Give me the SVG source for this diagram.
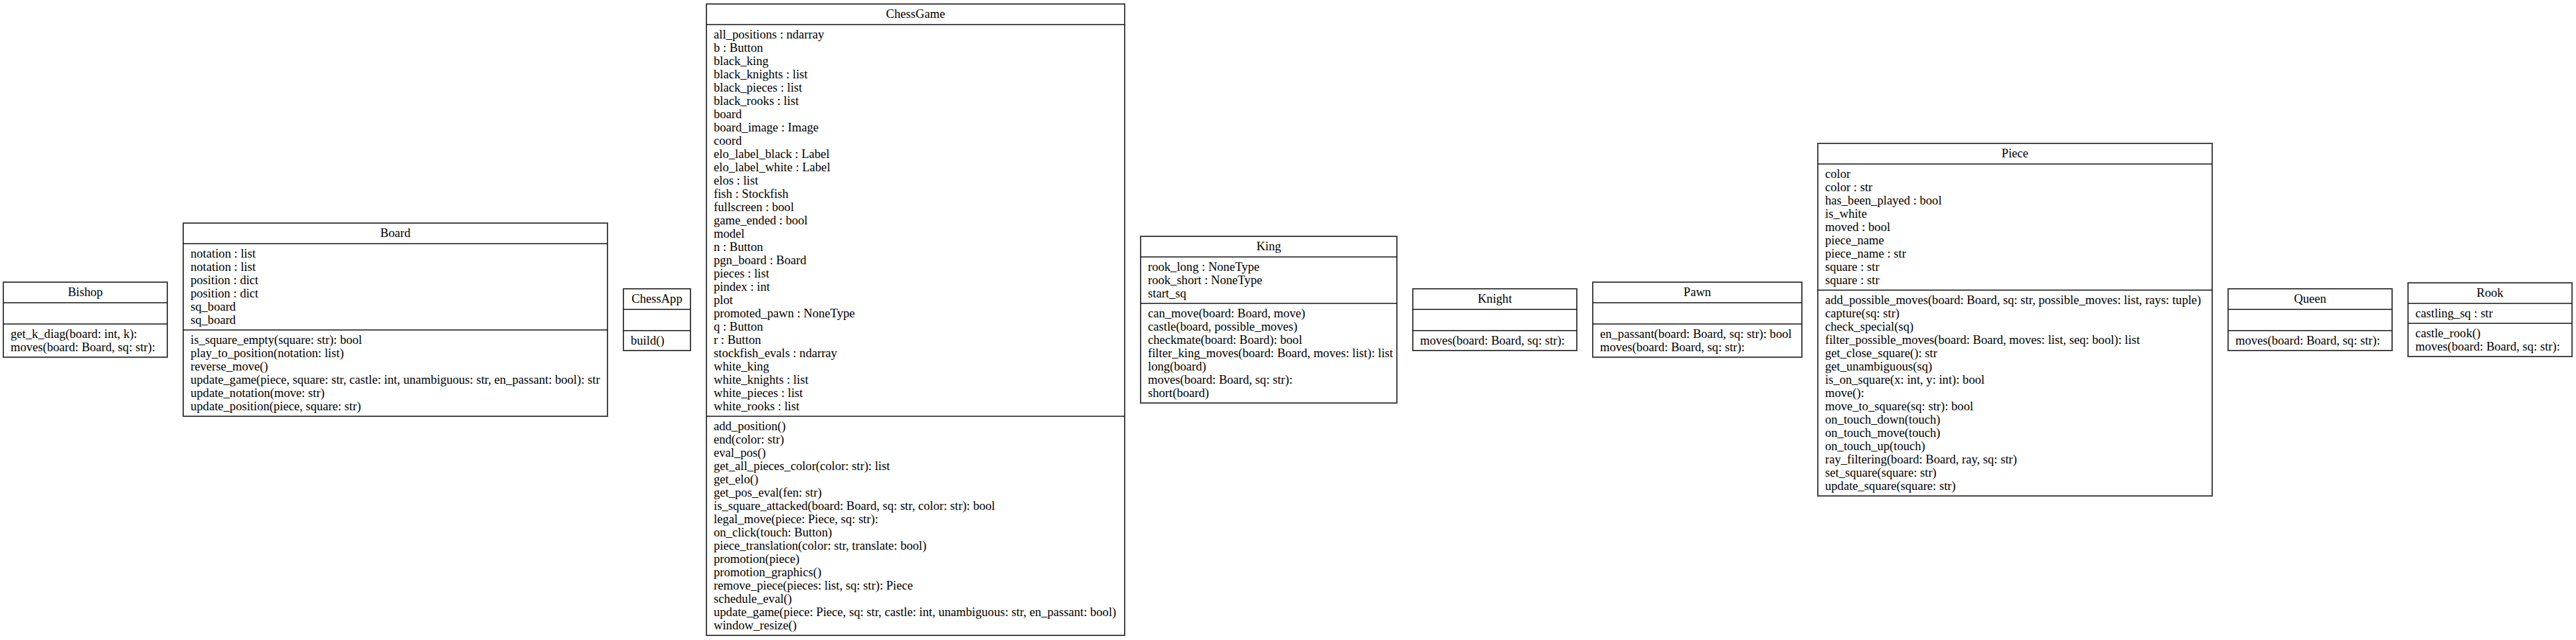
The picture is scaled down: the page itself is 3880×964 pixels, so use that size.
<svg xmlns="http://www.w3.org/2000/svg" width="3880" height="964" viewBox="0 0 3880 964">
<style>
.bg{fill:#ffffff}
.box{fill:#ffffff;stroke:#444444;stroke-width:2}
.sep{stroke:#111111;stroke-width:1.5}
text{font-family:"Liberation Serif","Times New Roman",serif;font-size:18.6px;fill:#000000}
.title{text-anchor:middle}
</style>
<rect class="bg" x="0" y="0" width="3880" height="964"/>
<g id="connectors"></g>
<g id="Bishop">
<rect class="box" x="5" y="425" width="247" height="113"/>
<line class="sep" x1="5" y1="456" x2="252" y2="456"/>
<line class="sep" x1="5" y1="488" x2="252" y2="488"/>
<text class="title" x="128.5" y="446">Bishop</text>
<text x="16" y="508.5"><tspan x="16">get_k_diag(board: int, k):</tspan><tspan x="16" dy="20">moves(board: Board, sq: str):</tspan></text>
</g>
<g id="Board">
<rect class="box" x="276" y="336" width="639" height="291"/>
<line class="sep" x1="276" y1="367" x2="915" y2="367"/>
<line class="sep" x1="276" y1="497" x2="915" y2="497"/>
<text class="title" x="595.5" y="357">Board</text>
<text x="287" y="387.5"><tspan x="287">notation : list</tspan><tspan x="287" dy="20">notation : list</tspan><tspan x="287" dy="20">position : dict</tspan><tspan x="287" dy="20">position : dict</tspan><tspan x="287" dy="20">sq_board</tspan><tspan x="287" dy="20">sq_board</tspan></text>
<text x="287" y="517.5"><tspan x="287">is_square_empty(square: str): bool</tspan><tspan x="287" dy="20">play_to_position(notation: list)</tspan><tspan x="287" dy="20">reverse_move()</tspan><tspan x="287" dy="20">update_game(piece, square: str, castle: int, unambiguous: str, en_passant: bool): str</tspan><tspan x="287" dy="20">update_notation(move: str)</tspan><tspan x="287" dy="20">update_position(piece, square: str)</tspan></text>
</g>
<g id="ChessApp">
<rect class="box" x="939" y="435" width="101" height="93"/>
<line class="sep" x1="939" y1="466" x2="1040" y2="466"/>
<line class="sep" x1="939" y1="498" x2="1040" y2="498"/>
<text class="title" x="989.5" y="456">ChessApp</text>
<text x="950" y="518.5">build()</text>
</g>
<g id="ChessGame">
<rect class="box" x="1064" y="6" width="630" height="951"/>
<line class="sep" x1="1064" y1="37" x2="1694" y2="37"/>
<line class="sep" x1="1064" y1="627" x2="1694" y2="627"/>
<text class="title" x="1379" y="27">ChessGame</text>
<text x="1075" y="57.5"><tspan x="1075">all_positions : ndarray</tspan><tspan x="1075" dy="20">b : Button</tspan><tspan x="1075" dy="20">black_king</tspan><tspan x="1075" dy="20">black_knights : list</tspan><tspan x="1075" dy="20">black_pieces : list</tspan><tspan x="1075" dy="20">black_rooks : list</tspan><tspan x="1075" dy="20">board</tspan><tspan x="1075" dy="20">board_image : Image</tspan><tspan x="1075" dy="20">coord</tspan><tspan x="1075" dy="20">elo_label_black : Label</tspan><tspan x="1075" dy="20">elo_label_white : Label</tspan><tspan x="1075" dy="20">elos : list</tspan><tspan x="1075" dy="20">fish : Stockfish</tspan><tspan x="1075" dy="20">fullscreen : bool</tspan><tspan x="1075" dy="20">game_ended : bool</tspan><tspan x="1075" dy="20">model</tspan><tspan x="1075" dy="20">n : Button</tspan><tspan x="1075" dy="20">pgn_board : Board</tspan><tspan x="1075" dy="20">pieces : list</tspan><tspan x="1075" dy="20">pindex : int</tspan><tspan x="1075" dy="20">plot</tspan><tspan x="1075" dy="20">promoted_pawn : NoneType</tspan><tspan x="1075" dy="20">q : Button</tspan><tspan x="1075" dy="20">r : Button</tspan><tspan x="1075" dy="20">stockfish_evals : ndarray</tspan><tspan x="1075" dy="20">white_king</tspan><tspan x="1075" dy="20">white_knights : list</tspan><tspan x="1075" dy="20">white_pieces : list</tspan><tspan x="1075" dy="20">white_rooks : list</tspan></text>
<text x="1075" y="647.5"><tspan x="1075">add_position()</tspan><tspan x="1075" dy="20">end(color: str)</tspan><tspan x="1075" dy="20">eval_pos()</tspan><tspan x="1075" dy="20">get_all_pieces_color(color: str): list</tspan><tspan x="1075" dy="20">get_elo()</tspan><tspan x="1075" dy="20">get_pos_eval(fen: str)</tspan><tspan x="1075" dy="20">is_square_attacked(board: Board, sq: str, color: str): bool</tspan><tspan x="1075" dy="20">legal_move(piece: Piece, sq: str):</tspan><tspan x="1075" dy="20">on_click(touch: Button)</tspan><tspan x="1075" dy="20">piece_translation(color: str, translate: bool)</tspan><tspan x="1075" dy="20">promotion(piece)</tspan><tspan x="1075" dy="20">promotion_graphics()</tspan><tspan x="1075" dy="20">remove_piece(pieces: list, sq: str): Piece</tspan><tspan x="1075" dy="20">schedule_eval()</tspan><tspan x="1075" dy="20">update_game(piece: Piece, sq: str, castle: int, unambiguous: str, en_passant: bool)</tspan><tspan x="1075" dy="20">window_resize()</tspan></text>
</g>
<g id="King">
<rect class="box" x="1718" y="356" width="386" height="251"/>
<line class="sep" x1="1718" y1="387" x2="2104" y2="387"/>
<line class="sep" x1="1718" y1="457" x2="2104" y2="457"/>
<text class="title" x="1911" y="377">King</text>
<text x="1729" y="407.5"><tspan x="1729">rook_long : NoneType</tspan><tspan x="1729" dy="20">rook_short : NoneType</tspan><tspan x="1729" dy="20">start_sq</tspan></text>
<text x="1729" y="477.5"><tspan x="1729">can_move(board: Board, move)</tspan><tspan x="1729" dy="20">castle(board, possible_moves)</tspan><tspan x="1729" dy="20">checkmate(board: Board): bool</tspan><tspan x="1729" dy="20">filter_king_moves(board: Board, moves: list): list</tspan><tspan x="1729" dy="20">long(board)</tspan><tspan x="1729" dy="20">moves(board: Board, sq: str):</tspan><tspan x="1729" dy="20">short(board)</tspan></text>
</g>
<g id="Knight">
<rect class="box" x="2128" y="435" width="247" height="93"/>
<line class="sep" x1="2128" y1="466" x2="2375" y2="466"/>
<line class="sep" x1="2128" y1="498" x2="2375" y2="498"/>
<text class="title" x="2251.5" y="456">Knight</text>
<text x="2139" y="518.5">moves(board: Board, sq: str):</text>
</g>
<g id="Pawn">
<rect class="box" x="2399" y="425" width="315" height="113"/>
<line class="sep" x1="2399" y1="456" x2="2714" y2="456"/>
<line class="sep" x1="2399" y1="488" x2="2714" y2="488"/>
<text class="title" x="2556.5" y="446">Pawn</text>
<text x="2410" y="508.5"><tspan x="2410">en_passant(board: Board, sq: str): bool</tspan><tspan x="2410" dy="20">moves(board: Board, sq: str):</tspan></text>
</g>
<g id="Piece">
<rect class="box" x="2738" y="216" width="594" height="531"/>
<line class="sep" x1="2738" y1="247" x2="3332" y2="247"/>
<line class="sep" x1="2738" y1="437" x2="3332" y2="437"/>
<text class="title" x="3035" y="237">Piece</text>
<text x="2749" y="267.5"><tspan x="2749">color</tspan><tspan x="2749" dy="20">color : str</tspan><tspan x="2749" dy="20">has_been_played : bool</tspan><tspan x="2749" dy="20">is_white</tspan><tspan x="2749" dy="20">moved : bool</tspan><tspan x="2749" dy="20">piece_name</tspan><tspan x="2749" dy="20">piece_name : str</tspan><tspan x="2749" dy="20">square : str</tspan><tspan x="2749" dy="20">square : str</tspan></text>
<text x="2749" y="457.5"><tspan x="2749">add_possible_moves(board: Board, sq: str, possible_moves: list, rays: tuple)</tspan><tspan x="2749" dy="20">capture(sq: str)</tspan><tspan x="2749" dy="20">check_special(sq)</tspan><tspan x="2749" dy="20">filter_possible_moves(board: Board, moves: list, seq: bool): list</tspan><tspan x="2749" dy="20">get_close_square(): str</tspan><tspan x="2749" dy="20">get_unambiguous(sq)</tspan><tspan x="2749" dy="20">is_on_square(x: int, y: int): bool</tspan><tspan x="2749" dy="20">move():</tspan><tspan x="2749" dy="20">move_to_square(sq: str): bool</tspan><tspan x="2749" dy="20">on_touch_down(touch)</tspan><tspan x="2749" dy="20">on_touch_move(touch)</tspan><tspan x="2749" dy="20">on_touch_up(touch)</tspan><tspan x="2749" dy="20">ray_filtering(board: Board, ray, sq: str)</tspan><tspan x="2749" dy="20">set_square(square: str)</tspan><tspan x="2749" dy="20">update_square(square: str)</tspan></text>
</g>
<g id="Queen">
<rect class="box" x="3356" y="435" width="247" height="93"/>
<line class="sep" x1="3356" y1="466" x2="3603" y2="466"/>
<line class="sep" x1="3356" y1="498" x2="3603" y2="498"/>
<text class="title" x="3479.5" y="456">Queen</text>
<text x="3367" y="518.5">moves(board: Board, sq: str):</text>
</g>
<g id="Rook">
<rect class="box" x="3627" y="426" width="247" height="111"/>
<line class="sep" x1="3627" y1="457" x2="3874" y2="457"/>
<line class="sep" x1="3627" y1="487" x2="3874" y2="487"/>
<text class="title" x="3750.5" y="447">Rook</text>
<text x="3638" y="477.5">castling_sq : str</text>
<text x="3638" y="507.5"><tspan x="3638">castle_rook()</tspan><tspan x="3638" dy="20">moves(board: Board, sq: str):</tspan></text>
</g>
</svg>
